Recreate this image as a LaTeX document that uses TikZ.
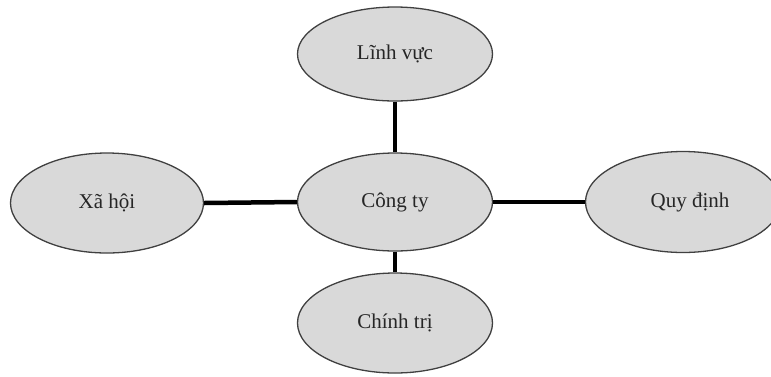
\documentclass[tikz,border=0pt]{standalone}
\usepackage{fontspec}
\setmainfont{Liberation Serif}
\usetikzlibrary{shapes.geometric}
\tikzset{
  bubble/.style={ellipse, draw=black!75, line width=1.3pt, fill=black!15,
    minimum width=195pt, minimum height=98pt, inner sep=0pt,
    font=\fontsize{21}{24}\selectfont, text=black!85},
  link/.style={line width=4.5pt, black}
}
\begin{document}
\begin{tikzpicture}[x=1pt,y=-1pt]
\useasboundingbox (0,0) rectangle (771,376);
\node[bubble, minimum height=94pt] (linh) at (395,54) {Lĩnh vực};
\node[bubble] (cong) at (395,202) {Công ty};
\node[bubble, minimum width=193pt, minimum height=100pt] (xa) at (107,203) {Xã hội};
\node[bubble, minimum height=101pt] (quy) at (683,202) {\hspace*{14pt}Quy định};
\node[bubble, minimum height=100pt] (chinh) at (395,323) {Chính trị};
\draw[link] (linh.south) -- (cong.north);
\draw[link] (cong.south) -- (chinh.north);
\draw[link] (xa.east) -- (cong.west);
\draw[link] (cong.east) -- (quy.west);
\end{tikzpicture}
\end{document}
